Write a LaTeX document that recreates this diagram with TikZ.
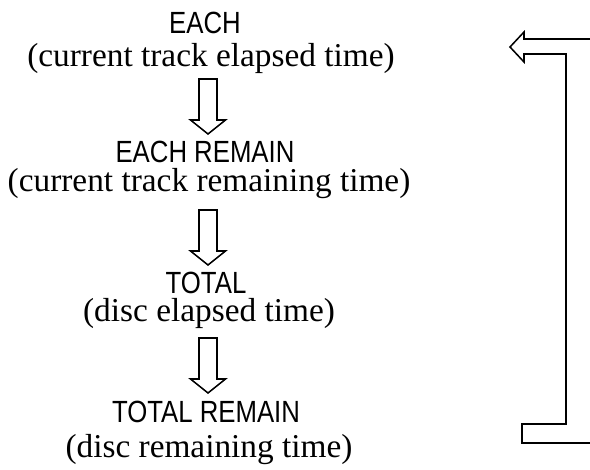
\documentclass[tikz,border=0pt]{standalone}
\usepackage{fontspec}
\newfontfamily\headfont[FakeStretch=0.84]{Liberation Sans}
\newfontfamily\subfont{Liberation Serif}
\begin{document}
\begin{tikzpicture}[x=0.75pt,y=-0.75pt,
  head/.style={font=\headfont\fontsize{23}{26}\selectfont, inner sep=0pt, anchor=base},
  sub/.style={font=\subfont\fontsize{25}{28}\selectfont, inner sep=0pt, anchor=base},
  blk/.style={draw=black, line width=1.15pt, line join=miter, fill=white}]
\useasboundingbox (0,0) rectangle (590,470);
\node[head] (h1) at (205,34) {EACH};
\node[sub]  (s1) at (211,67) {(current track elapsed time)};
\node[head] (h2) at (205,163) {EACH REMAIN};
\node[sub]  (s2) at (209,192) {(current track remaining time)};
\node[head] (h3) at (206,294) {TOTAL};
\node[sub]  (s3) at (209,322) {(disc elapsed time)};
\node[head] (h4) at (206,423) {TOTAL REMAIN};
\node[sub]  (s4) at (209,458) {(disc remaining time)};
% down block arrows
\coordinate (a1) at (208,79);
\coordinate (a2) at (208,210);
\coordinate (a3) at (208,338);
\foreach \a in {a1,a2,a3}{
  \draw[blk] (\a) ++(-9,0) -- ++(0,41) -- ++(-8.5,0) -- ++(17.5,14) -- ++(17.5,-14) -- ++(-8.5,0) -- ++(0,-41) -- cycle;
}
% feedback bent arrow
\draw[blk, fill=none] (590,39) -- (524,39) -- (524,32) -- (510,47) -- (524,62) -- (524,54) -- (566,54) -- (566,424) -- (522,424) -- (522,443) -- (590,443);
\end{tikzpicture}
\end{document}
